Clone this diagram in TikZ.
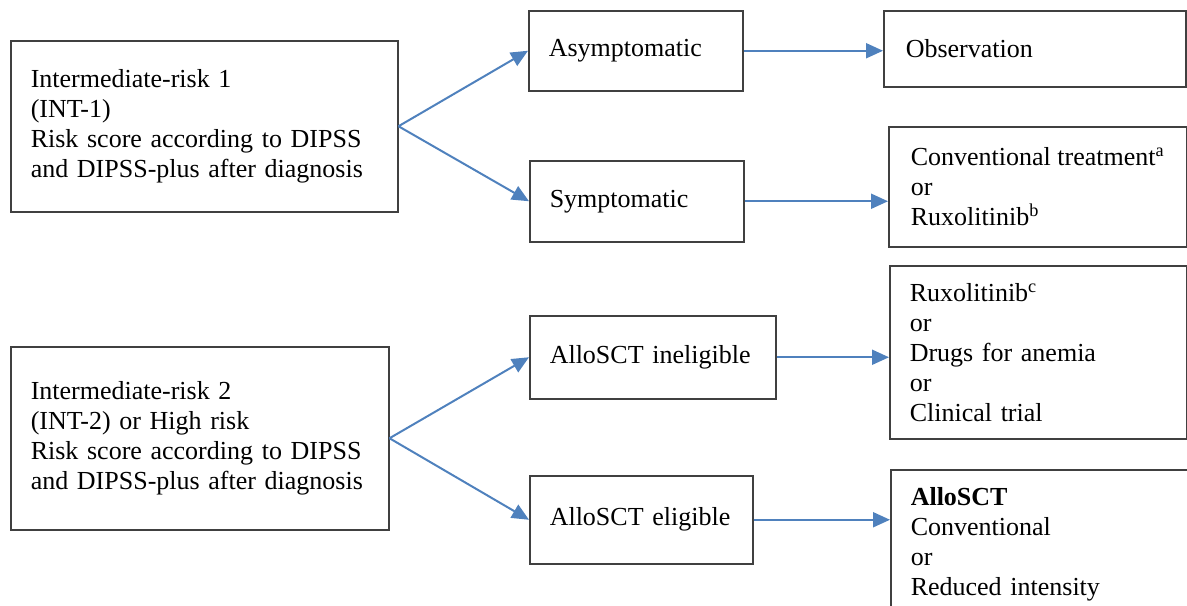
\documentclass[tikz,border=0pt]{standalone}
\usepackage{fontspec}
\setmainfont{Liberation Serif}
\usetikzlibrary{arrows.meta}
\definecolor{arrowblue}{HTML}{4F81BD}
\definecolor{boxgray}{HTML}{404040}
\newcommand\boxfont{\fontsize{13pt}{15pt}\selectfont}
\tikzset{
  box/.style={draw=boxgray, line width=0.75pt, anchor=north west, align=left, inner xsep=10pt, inner ysep=0pt,
    font=\boxfont},
  link/.style={draw=arrowblue, line width=1pt, -{Triangle[length=8.5pt,width=7.5pt]}}
}
\begin{document}
\begin{tikzpicture}[x=0.5pt,y=-0.5pt]
\useasboundingbox (0,0) rectangle (1187,605);
\node[box, text width=173.5pt, minimum height=85.5pt] (int1) at (10,40) {Intermediate-risk 1\\(INT-1)\\Risk score according to DIPSS\\and DIPSS-plus after diagnosis};
\node[box, text width=87pt, minimum height=40pt] (asym) at (528,10) {Asymptomatic};
\node[box, text width=129pt, minimum height=38pt, inner xsep=11pt] (obs) at (883,10) {Observation};
\node[box, text width=87pt, minimum height=40.5pt] (sym) at (529,160) {Symptomatic};
\node[box, minimum width=149pt, minimum height=60pt] (conv) at (888,126) {Conventional treatment\textsuperscript{a}\\or\\Ruxolitinib\textsuperscript{b}};
\node[box, text width=169pt, minimum height=91.5pt] (int2) at (10,346) {Intermediate-risk 2\\(INT-2) or High risk\\Risk score according to DIPSS\\and DIPSS-plus after diagnosis};
\node[box, text width=103pt, minimum height=41.5pt] (inel) at (529,315) {AlloSCT ineligible};
\node[box, text width=128.5pt, minimum height=86.5pt] (rux) at (889,265) {Ruxolitinib\textsuperscript{c}\\or\\Drugs for anemia\\or\\Clinical trial};
\node[box, text width=91.5pt, minimum height=44pt] (elig) at (529,475) {AlloSCT eligible};
\node[box, text width=180pt, inner ysep=9pt, text height=9pt, text depth=80pt] (allo) at (890,469) {\textbf{AlloSCT}\\Conventional\\or\\Reduced intensity};
\draw[link] (int1.east) -- (asym.west);
\draw[link] (int1.east) -- (sym.west);
\draw[link] (asym.east) -- (asym.east -| obs.west);
\draw[link] (sym.east) -- (sym.east -| conv.west);
\draw[link] (int2.east) -- (inel.west);
\draw[link] (int2.east) -- (elig.west);
\draw[link] (inel.east) -- (inel.east -| rux.west);
\draw[link] (elig.east) -- (elig.east -| allo.west);
\end{tikzpicture}
\end{document}
